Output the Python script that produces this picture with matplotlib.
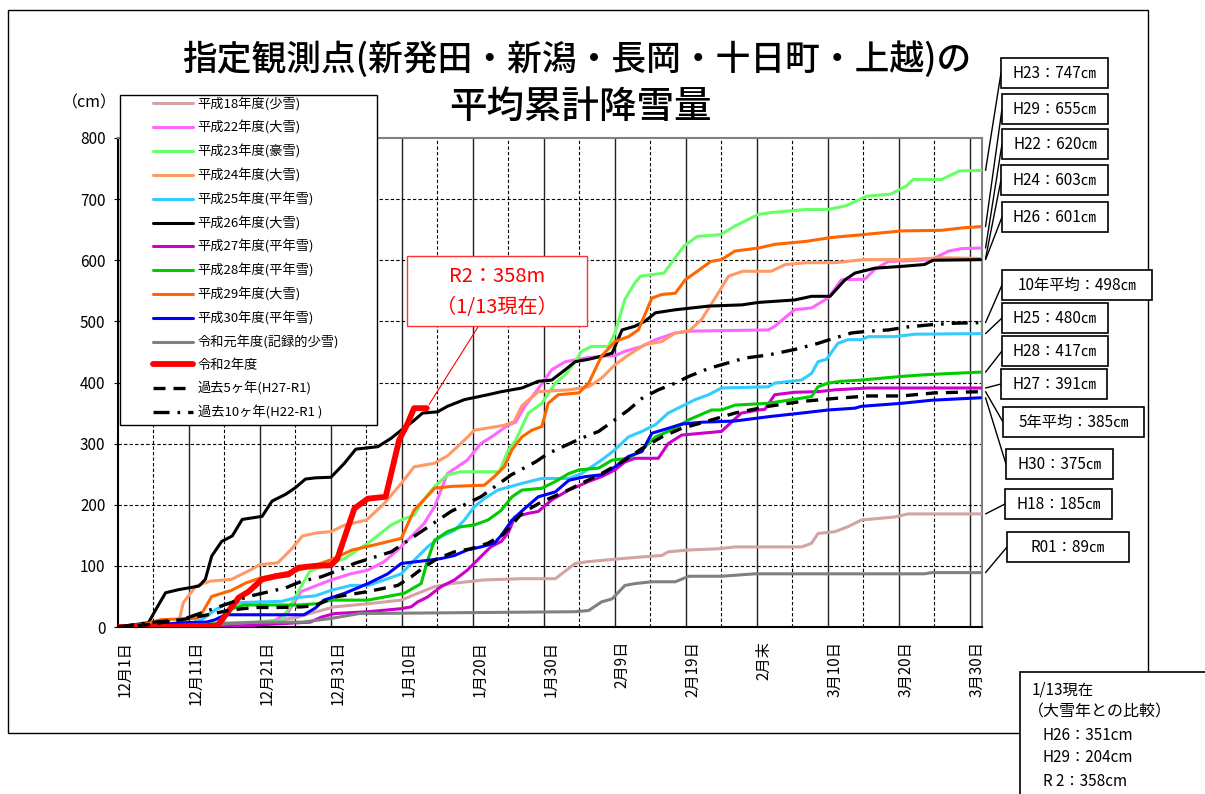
import numpy as np
import matplotlib.pyplot as plt
from matplotlib.patches import Rectangle

plt.rcParams['font.family'] = ['Noto Sans CJK JP', 'DejaVu Sans']

# ---- data (day from Dec 1, cumulative snowfall cm) ----
h18_d = [0, 10, 17, 20, 25, 27, 28.6, 30.5, 35.2, 39.9, 42.2, 44.6, 46.9, 49.2, 51.6, 56.8, 61.6, 62.5, 64.4, 66.3, 71, 74.2, 76.6, 77.5, 80.4, 84.6, 86.9, 96.3, 97.7, 98.6, 101, 102.8, 104.7, 107.5, 109.4, 111.3, 121.5]
h18_v = [0, 2, 5, 8, 15, 22, 27, 33, 38, 44, 55, 66, 71, 74, 77, 79, 79, 87, 104, 107, 112, 115, 117, 123, 126, 128, 131, 131, 137, 153, 156, 164, 175, 178, 180, 185, 185]

h22_d = [0, 10, 18, 22, 24, 25.8, 30, 32.8, 35.2, 37.5, 39.4, 41.3, 43.1, 44.6, 45.5, 46.4, 47.8, 49.2, 51.1, 53, 54.9, 56, 57.3, 59.2, 61.1, 63, 65.8, 68.1, 70, 71.4, 73.8, 75.7, 78.5, 80.4, 91.6, 92.5, 95.3, 97.7, 100, 101.9, 105.2, 106.6, 108.5, 114.6, 117, 118.8, 121.5]
h22_v = [0, 2, 5, 10, 25, 58, 77, 87, 93, 107, 126, 148, 169, 197, 224, 251, 262, 273, 300, 314, 330, 335, 361, 390, 421, 434, 440, 443, 444, 451, 459, 470, 481, 484, 486, 492, 519, 522, 538, 568, 569, 585, 598, 601, 615, 619, 620]

h23_d = [0, 5, 10, 15, 20, 23, 25, 27, 29.9, 31.9, 35.2, 38.5, 39.9, 41.7, 42.7, 44.6, 46.4, 48.3, 53.7, 55, 56, 57.8, 59.7, 61.6, 63, 64.4, 65.3, 66.7, 69.1, 70, 71.4, 72.8, 73.6, 76.9, 79.7, 81.6, 84.9, 86.9, 90.2, 92, 96.8, 100, 102.5, 105.5, 108.8, 111, 112, 116, 118.5, 121.5]
h23_v = [0, 2, 5, 7, 8, 10, 50, 91, 104, 112, 137, 167, 175, 183, 202, 230, 249, 254, 254, 290, 305, 350, 366, 399, 413, 434, 451, 459, 459, 481, 536, 563, 574, 579, 623, 639, 642, 656, 675, 678, 683, 683, 689, 705, 708, 721, 732, 732, 746, 747]

h24_d = [0, 5, 8.5, 9.2, 11, 13, 16, 18.6, 20, 22.5, 24.4, 26, 28, 30, 32, 35, 37.5, 39.9, 41.7, 44.6, 46.4, 48.3, 50.2, 54.4, 55.8, 56.9, 59.2, 63.5, 66.3, 68.1, 70, 71.9, 74.2, 76.6, 78.5, 80.4, 82.2, 84.1, 86, 88, 92, 94, 97, 101, 105, 111, 116, 121.5]
h24_v = [0, 2, 5, 40, 67, 75, 78, 93, 102, 105, 127, 149, 154, 156, 167, 175, 202, 235, 262, 268, 280, 300, 322, 330, 336, 362, 385, 388, 393, 407, 429, 445, 462, 467, 481, 484, 503, 538, 574, 582, 582, 593, 596, 596, 601, 601, 604, 603]

h25_d = [0, 5, 10, 11.8, 13.7, 15.1, 17.5, 19.8, 23.1, 25, 27.8, 30, 32.8, 35.2, 38, 39.9, 41.7, 43.6, 45.5, 47.4, 48.8, 50.2, 51.6, 53.5, 55.4, 56.9, 59.7, 63.5, 65.3, 66.7, 68.1, 70, 71.9, 73.8, 75.7, 77.5, 79.4, 81.3, 83.2, 85, 91.6, 92.5, 96.3, 97.7, 98.6, 99.8, 101.4, 102.8, 104.7, 105.7, 109.4, 112.2, 121.5]
h25_v = [0, 2, 5, 12, 28, 37, 40, 41, 42, 48, 51, 60, 68, 68, 79, 87, 109, 131, 148, 158, 175, 197, 210, 224, 230, 235, 243, 243, 251, 262, 273, 290, 311, 320, 331, 350, 361, 372, 380, 391, 393, 399, 404, 415, 434, 438, 464, 470, 470, 475, 475, 479, 480]

h26_d = [0, 4.3, 5.3, 6.7, 8.5, 11.4, 12.3, 13.2, 14.6, 16.1, 17.5, 20.3, 21.7, 23.6, 25, 26.4, 27.8, 30, 31.9, 33.5, 36.6, 38.5, 39.9, 41.5, 42.9, 45, 46.4, 48.8, 52.1, 54, 56.9, 59.2, 61.1, 63, 64.4, 66.3, 68.1, 69.6, 71, 72.8, 74.2, 75.7, 78.5, 83.2, 87.9, 90.2, 95.3, 97.7, 100.3, 102.4, 103.8, 106.6, 110.4, 113.6, 114.8, 121.5]
h26_v = [0, 7, 28, 56, 61, 67, 78, 116, 140, 149, 176, 181, 206, 217, 228, 242, 244, 245, 268, 291, 295, 309, 322, 336, 350, 352, 361, 372, 380, 385, 391, 402, 404, 421, 434, 438, 443, 448, 486, 492, 500, 514, 519, 525, 527, 531, 535, 541, 541, 568, 579, 587, 590, 593, 600, 601]

h27_d = [0, 14.4, 27.1, 28.6, 30.5, 35.2, 39.9, 41.3, 42.2, 43.6, 45.5, 47.4, 49.2, 51.1, 52.5, 54, 55, 55.9, 57.8, 59.2, 61.1, 63.5, 66.3, 68.1, 70, 71.4, 72.8, 76.1, 77.5, 79.4, 82.2, 85, 87.8, 90.2, 91.1, 92.5, 95.3, 98.6, 101, 105.7, 121.5]
h27_v = [0, 0, 8, 16, 22, 25, 30, 33, 41, 49, 66, 77, 93, 115, 131, 140, 155, 180, 186, 189, 208, 224, 238, 246, 257, 270, 276, 276, 300, 314, 317, 320, 350, 355, 356, 380, 384, 385, 388, 391, 391]

h28_d = [0, 5, 10, 13.7, 14.4, 15.3, 17.7, 22.4, 25.2, 28, 30, 35.2, 37.5, 40.3, 42.7, 43.6, 44.6, 46.4, 48.3, 50.2, 52.1, 53.9, 55.5, 56.9, 59.7, 61.6, 63.5, 64.9, 67.7, 69.6, 71.9, 73.8, 75.7, 78.5, 80.4, 82.2, 83.6, 85, 86.9, 91.6, 97.7, 98.6, 100, 101.9, 104.7, 110.4, 114.1, 121.5]
h28_v = [0, 2, 3, 5, 8, 27, 36, 36, 36, 38, 44, 44, 49, 55, 71, 109, 142, 156, 164, 167, 175, 190, 213, 224, 227, 238, 251, 257, 260, 273, 276, 290, 311, 325, 339, 348, 355, 355, 363, 366, 377, 393, 399, 402, 404, 410, 413, 417]

h29_d = [0, 4, 6, 11, 11.8, 13.2, 16, 18, 20, 22.5, 25, 27, 30, 33, 36, 39.9, 41.7, 44.6, 46.9, 51.6, 53, 54.4, 55.5, 56.9, 58.3, 59.7, 60.6, 62, 64.9, 66.3, 68.1, 70, 71.9, 73.3, 75.2, 76.6, 78.5, 79.9, 81.6, 83.5, 85, 86.9, 90.2, 92.5, 97, 100.3, 105, 110.4, 116, 119, 121.5]
h29_v = [0, 5, 12, 14, 22, 50, 60, 72, 80, 86, 92, 98, 110, 126, 134, 145, 191, 227, 230, 232, 246, 262, 290, 311, 322, 328, 366, 380, 383, 399, 443, 467, 475, 486, 538, 544, 546, 568, 582, 598, 601, 615, 620, 626, 631, 637, 642, 648, 649, 653, 655]

h30_d = [0, 5, 9, 12.5, 13.7, 15.1, 26.2, 27.8, 29, 31.9, 35.2, 38, 39.9, 43.6, 45.5, 47.4, 49.2, 51.1, 53, 54, 55.5, 57.3, 59.2, 61.6, 63.5, 65.8, 68.1, 70, 71.9, 73.8, 75.2, 77.5, 79.4, 82.2, 86.9, 91.6, 96.3, 100, 103.8, 104.7, 110.4, 114.6, 121.5]
h30_v = [0, 3, 7, 8, 12, 20, 20, 31, 44, 55, 71, 87, 104, 109, 112, 117, 126, 131, 137, 150, 175, 194, 213, 221, 240, 246, 249, 262, 279, 287, 317, 325, 332, 335, 337, 344, 350, 355, 358, 361, 366, 371, 375]

r01_d = [0, 10, 20, 26, 30, 34, 64.4, 66.3, 68.1, 69.6, 71.4, 72.8, 75.2, 78.5, 80.4, 85, 89.7, 113.6, 114.6, 121.5]
r01_v = [0, 3, 8, 8, 14, 22, 25, 27, 41, 46, 68, 71, 74, 74, 83, 83, 87, 87, 89, 89]

r2_d = [0, 5, 10, 14, 15.5, 17, 18.4, 20.3, 22.2, 24, 25.4, 27.8, 30, 30.9, 33.3, 35.2, 37.7, 39.6, 40.8, 41.7, 43.5]
r2_v = [0, 0, 1, 2, 25, 48, 58, 78, 83, 86, 97, 100, 101, 112, 194, 210, 213, 306, 333, 358, 358]

avg5_d = [0, 4.3, 9, 11.4, 15.1, 17.5, 19.8, 23.1, 25.9, 27.8, 30.5, 35.2, 39.4, 41.3, 43.1, 45, 47.4, 49.7, 52.1, 54.2, 56.9, 59.7, 62.5, 65.3, 68.1, 71, 73.8, 76.6, 79.4, 82.2, 86.9, 91.6, 96.3, 101, 105.7, 110.4, 115, 121.5]
avg5_v = [0, 4, 12, 17, 26, 30, 32, 32, 33, 35, 49, 58, 68, 82, 98, 112, 123, 128, 137, 151, 186, 205, 219, 235, 251, 270, 292, 311, 325, 334, 350, 361, 369, 374, 378, 378, 383, 385]

avg10_d = [0, 4.3, 9, 13.7, 18.4, 23.6, 25.9, 28.6, 31.8, 33.3, 38.5, 42.7, 46.9, 51.1, 55.4, 58.8, 60.6, 65.3, 67.7, 70, 71.9, 73.8, 76.1, 78.5, 80.4, 83.2, 85, 88.3, 91.6, 95.3, 98.6, 101, 103.3, 105.7, 108.5, 111.3, 115, 117.9, 121.5]
avg10_v = [0, 7, 12, 31, 50, 64, 75, 82, 96, 104, 123, 156, 189, 213, 249, 270, 284, 309, 320, 339, 355, 374, 388, 399, 410, 423, 429, 440, 445, 454, 464, 473, 481, 484, 486, 491, 495, 497, 498]

tick_labels = ['12月1日', '12月11日', '12月21日', '12月31日', '1月10日', '1月20日', '1月30日',
               '2月9日', '2月19日', '2月末', '3月10日', '3月20日', '3月30日']

end_labels = ['H23', 'H29', 'H22', 'H24', 'H26', '10年平均', 'H25', 'H28', 'H27', '5年平均', 'H30', 'H18', 'R01']
end_values = [747, 655, 620, 603, 601, 498, 480, 417, 391, 385, 375, 185, 89]

compare_lines = ['H26：351cm', 'H29：204cm', 'R 2：358cm']

# ---- figure ----
W, H = 1205, 794
fig = plt.figure(figsize=(W / 100, H / 100), dpi=100)


def fx(px):
    return px / W


def fy(py):
    return 1 - py / H


# outer chart frame
fig.patches.append(Rectangle((fx(8), fy(733)), fx(1148) - fx(8), fy(10) - fy(733),
                             transform=fig.transFigure, fill=False, ec='black', lw=1.0))

ax = fig.add_axes([fx(118), fy(627), fx(982) - fx(118), fy(138) - fy(627)])

series = [
    ('平成18年度(少雪)', h18_d, h18_v, '#D4A3A3', 2.2, '-'),
    ('平成22年度(大雪)', h22_d, h22_v, '#FF66FF', 2.2, '-'),
    ('平成23年度(豪雪)', h23_d, h23_v, '#66FF66', 2.2, '-'),
    ('平成24年度(大雪)', h24_d, h24_v, '#FF9966', 2.2, '-'),
    ('平成25年度(平年雪)', h25_d, h25_v, '#33CCFF', 2.2, '-'),
    ('平成26年度(大雪)', h26_d, h26_v, '#000000', 2.2, '-'),
    ('平成27年度(平年雪)', h27_d, h27_v, '#CC00CC', 2.2, '-'),
    ('平成28年度(平年雪)', h28_d, h28_v, '#00CC00', 2.2, '-'),
    ('平成29年度(大雪)', h29_d, h29_v, '#FF6600', 2.2, '-'),
    ('平成30年度(平年雪)', h30_d, h30_v, '#0000FF', 2.2, '-'),
    ('令和元年度(記録的少雪)', r01_d, r01_v, '#808080', 2.2, '-'),
    ('令和2年度', r2_d, r2_v, '#FF0000', 4.2, '-'),
    ('過去5ヶ年(H27-R1)', avg5_d, avg5_v, '#000000', 2.4, (0, (3.6, 2.4))),
    ('過去10ヶ年(H22-R1 )', avg10_d, avg10_v, '#000000', 2.4, (0, (4.8, 2.4, 0.8, 2.4))),
]

for label, d, v, c, lw, ls in series:
    ax.plot(d, v, color=c, lw=lw, ls=ls, label=label, zorder=3,
            solid_joinstyle='round', solid_capstyle='round')

ax.set_xlim(0, 121.7)
ax.set_ylim(0, 800)

# grid
for d in range(5, 121, 5):
    if d % 10 == 0:
        ax.axvline(d, color='#222222', lw=1.0, zorder=1)
    else:
        ax.axvline(d, color='black', lw=0.8, ls=(0, (3, 2)), zorder=1)
for v in range(100, 800, 100):
    ax.axhline(v, color='black', lw=0.8, ls=(0, (3, 2)), zorder=1)

ax.set_xticks(np.arange(1, 122, 10))
ax.set_xticklabels(tick_labels, rotation=90, fontsize=11)
ax.tick_params(axis='x', length=0, pad=10)
ax.set_yticks(np.arange(0, 801, 100))
ax.tick_params(axis='y', labelsize=11, length=3, pad=6)

for s in ['left', 'bottom']:
    ax.spines[s].set_color('black')
    ax.spines[s].set_linewidth(1.5)
for s in ['top', 'right']:
    ax.spines[s].set_color('#808080')
    ax.spines[s].set_linewidth(1.5)

fig.text(fx(89), fy(103), '（cm）', ha='center', va='center', fontsize=11.5)

# title
fig.text(fx(577), fy(60), '指定観測点(新発田・新潟・長岡・十日町・上越)の', ha='center', va='center',
         fontsize=25, fontweight='medium')
fig.text(fx(580), fy(107), '平均累計降雪量', ha='center', va='center', fontsize=27, fontweight='medium')

# legend with its own frame
ax.add_patch(Rectangle((fx(120), fy(425)), fx(377) - fx(120), fy(95) - fy(425),
                       transform=fig.transFigure, fc='white', ec='black', lw=1.0,
                       zorder=6, clip_on=False))
leg = ax.legend(loc='upper left', bbox_to_anchor=(fx(153), fy(97)), bbox_transform=fig.transFigure,
                frameon=False, fontsize=9.5, handlelength=3.0, handletextpad=0.38,
                labelspacing=0.74, borderpad=0, borderaxespad=0)
leg.set_zorder(7)

# red current-value callout
ax.annotate('', xy=(r2_d[-1], r2_v[-1]), xycoords='data',
            xytext=(fx(478), fy(327)), textcoords='figure fraction',
            arrowprops=dict(arrowstyle='-', color='red', lw=0.8, shrinkA=0, shrinkB=3), zorder=8)
fig.patches.append(Rectangle((fx(407), fy(326)), fx(587) - fx(407), fy(256) - fy(326),
                             transform=fig.transFigure, fc='white', ec='#FF3333', lw=1.0))
fig.text(fx(497), fy(276), 'R2：358m', color='red', ha='center', va='center', fontsize=14.5)
fig.text(fx(497), fy(307), '（1/13現在）', color='red', ha='center', va='center', fontsize=14.5)

# end-value boxes with leader lines
box_tops = [58, 94, 129, 165, 202, 270, 303, 336, 369, 407, 449, 489, 532]
box_lefts = [1001, 1002, 1002, 1001, 1002, 1002, 1002, 1002, 1001, 1003, 1006, 1005, 1007]
box_widths = [107, 106, 106, 107, 106, 150, 106, 106, 106, 141, 107, 107, 122]
for name, val, top, left, w in zip(end_labels, end_values, box_tops, box_lefts, box_widths):
    ax.annotate('', xy=(122.2, val), xycoords='data',
                xytext=(fx(left), fy(top + 15)), textcoords='figure fraction',
                arrowprops=dict(arrowstyle='-', color='black', lw=1.0, shrinkA=0, shrinkB=0),
                annotation_clip=False)
    fig.patches.append(Rectangle((fx(left), fy(top + 30)), fx(w), fy(top) - fy(top + 30),
                                 transform=fig.transFigure, fc='white', ec='black', lw=1.2))
    fig.text(fx(left + w / 2), fy(top + 15), f'{name}：{val}㎝', ha='center', va='center', fontsize=11)

# comparison box bottom right
fig.patches.append(Rectangle((fx(1020), fy(800)), fx(200), fy(672) - fy(800),
                             transform=fig.transFigure, fc='white', ec='black', lw=1.2))
fig.text(fx(1032), fy(690), '1/13現在', ha='left', va='center', fontsize=11)
fig.text(fx(1028), fy(712), '（大雪年との比較）', ha='left', va='center', fontsize=11.5)
for i, line in enumerate(compare_lines):
    fig.text(fx(1043), fy(735 + 23 * i), line, ha='left', va='center', fontsize=11)

fig.savefig('out.png', dpi=100)
